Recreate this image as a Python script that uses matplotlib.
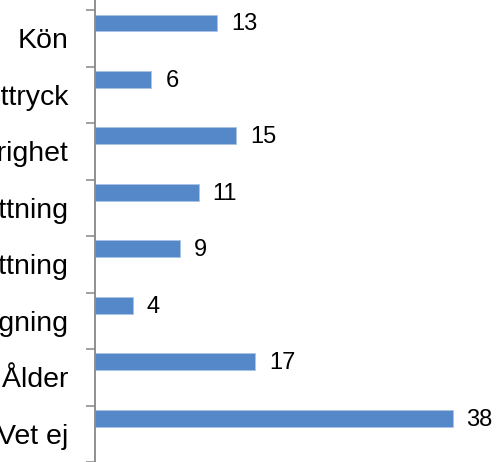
import matplotlib
matplotlib.use("Agg")
import matplotlib.pyplot as plt
import numpy as np

plt.rcParams['font.family'] = ['Liberation Sans', 'DejaVu Sans']

categories = [
    "Kön",
    "Könsöverskridande identitet eller uttryck",
    "Etnisk tillhörighet",
    "Religion eller annan trosuppfattning",
    "Funktionsnedsättning",
    "Sexuell läggning",
    "Ålder",
    "Vet ej",
]
values = [13, 6, 15, 11, 9, 4, 17, 38]

bar_color = "#5588C8"
axis_color = "#878787"

fig = plt.figure(figsize=(5.0, 4.62), dpi=100)
ax = fig.add_axes([0.19, 0.0, 0.81, 1.0])

pos = np.arange(len(categories))
# bars sit in the upper part of each category slot
bar_offset = -0.274
ax.barh(pos + bar_offset, values, height=0.298, color=bar_color,
        edgecolor="#A9C4E6", linewidth=0.6, zorder=2)

for p, v in zip(pos, values):
    ax.annotate(str(v), xy=(v, p + bar_offset), xytext=(10, -1),
                textcoords="offset points", va="center", ha="left",
                fontsize=17, color="black")

ax.set_xlim(0, 43.03)
ax.set_ylim(7.411, -0.680)

# tick marks between categories, labels at category centres
ax.set_yticks(np.arange(len(categories) + 1) - 0.5)
ax.set_yticklabels([])
ax.set_yticks(pos, minor=True)
ax.set_yticklabels(categories, minor=True, fontsize=20.5)
ax.tick_params(axis="y", which="major", length=6.5, width=1.1,
               color=axis_color, direction="out")
ax.tick_params(axis="y", which="minor", length=0, pad=19.4)
ax.set_xticks([])

for side in ("top", "right", "bottom"):
    ax.spines[side].set_visible(False)
ax.spines["left"].set_color(axis_color)
ax.spines["left"].set_linewidth(1.3)

fig.savefig("out.png", dpi=100)
